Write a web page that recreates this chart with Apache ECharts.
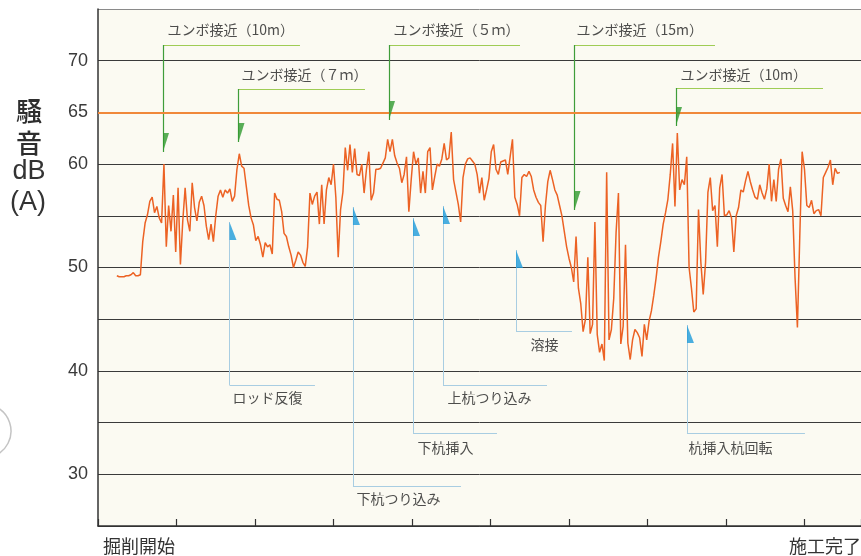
<!DOCTYPE html>
<html><head><meta charset="utf-8">
<script src="https://cdn.jsdelivr.net/npm/echarts@6/dist/echarts.min.js"></script>
<style>html,body{margin:0;padding:0;background:#fff}#c{width:861px;height:556px}</style>
</head><body><div id="c"></div>
<script>
// time axis: arbitrary units, one tick per 10 units
const T0 = 2.4, DT = 0.3;
const xMax = 97.2;
const noiseDb = [
49.2,49.1,49.1,49.1,49.2,49.2,49.3,49.5,49.2,49.2,49.3,
52.5,54.3,55.1,56.4,56.8,55.3,55.9,54.8,54.3,
60.0,52.0,56.0,53.5,57.0,51.5,57.7,50.3,54.5,57.7,
54.6,53.5,58.2,55.8,54.5,56.3,56.9,56.0,54.0,52.7,
54.2,52.5,55.0,56.9,57.5,56.8,57.5,57.2,57.6,56.4,
56.9,59.5,61.0,59.8,59.6,57.8,56.0,54.8,54.1,52.6,
53.0,52.2,51.0,52.4,52.0,52.2,51.3,57.2,56.6,56.5,
55.4,53.3,53.0,52.0,51.2,50.0,50.7,51.5,51.2,50.5,
50.1,52.0,57.2,56.1,56.9,57.3,54.2,58.0,54.2,57.5,
58.7,58.0,60.0,56.8,51.0,55.6,57.3,61.6,59.4,61.9,
59.2,61.5,59.0,58.9,60.0,57.2,59.5,61.2,56.5,57.2,
59.5,59.5,59.6,60.1,60.6,62.4,61.2,62.4,60.8,60.1,
59.6,58.2,59.0,60.7,55.4,58.5,61.2,60.0,60.6,57.2,
59.3,57.2,61.2,61.6,57.5,58.8,60.0,59.8,60.5,62.0,
60.4,60.6,63.1,58.5,57.3,56.1,54.4,58.7,60.0,60.5,
60.6,60.3,60.0,59.0,57.2,58.7,56.5,57.5,58.6,61.2,
61.9,59.5,59.0,60.2,60.3,60.4,59.0,60.7,62.4,56.8,
56.1,55.0,58.7,59.0,58.8,59.3,58.8,57.5,56.8,56.3,
56.0,52.5,56.0,58.3,59.4,58.5,57.5,57.0,56.0,55.0,
53.5,52.0,50.9,50.0,48.6,53.0,48.0,46.5,43.8,45.0,
51.0,43.6,44.5,54.4,43.5,41.8,42.6,41.0,59.2,43.0,
44.0,47.0,53.4,57.2,42.6,44.3,52.2,42.7,41.1,43.0,
44.0,43.7,43.2,41.4,44.5,43.0,44.8,45.8,47.3,49.0,
51.0,52.5,54.2,55.3,56.6,59.0,62.0,55.9,63.0,57.5,
58.5,58.0,60.7,50.0,48.0,45.7,46.0,55.6,50.5,47.4,
50.5,57.3,58.7,55.5,56.0,52.0,57.7,59.0,55.0,55.1,
55.5,54.8,51.5,55.0,55.8,57.5,57.3,58.4,59.3,58.3,
57.5,56.8,56.6,58.0,57.2,56.6,57.6,60.0,56.4,58.5,
56.4,59.5,60.5,56.7,56.0,55.4,57.8,55.5,49.0,44.2,
53.0,61.2,59.5,56.0,55.8,56.5,55.2,55.5,55.6,55.0,
58.7,59.2,59.7,60.4,58.0,59.6,59.1,59.2
];
const yTickLabels = [30, 40, 50, 60, 65, 70];
const limitDb = 65;

// green annotations (excavator approach)
const greenNames = ['ユンボ接近（10m）','ユンボ接近（７ｍ）','ユンボ接近（５ｍ）','ユンボ接近（15m）','ユンボ接近（10m）'];
const greenX     = [8.28, 17.90, 37.07, 60.70, 73.63];
const greenTop   = [71.52, 67.26, 71.52, 71.52, 67.36];
const greenTip   = [61.17, 62.14, 64.27, 55.56, 63.68];
const greenEnd   = [25.73, 34.01, 53.76, 78.60, 92.36];
const greenLabX  = [8.79, 18.22, 37.58, 60.89, 74.14];
const greenLabY  = [72.97, 68.62, 72.97, 72.97, 68.62];

// blue annotations (work steps)
const blueNames  = ['ロッド反復','下杭つり込み','下杭挿入','上杭つり込み','溶接','杭挿入杭回転'];
const blueX      = [16.75, 32.48, 40.13, 43.95, 53.25, 75.03];
const blueTip    = [54.40, 55.85, 54.79, 55.95, 51.69, 44.44];
const blueBottom = [38.64, 28.87, 34.00, 38.64, 43.86, 34.00];
const blueEnd    = [27.64, 46.24, 50.83, 57.20, 60.38, 90.06];
const blueLabX   = [17.07, 32.87, 40.64, 44.46, 55.03, 75.16];
const blueLabY   = [37.38, 27.61, 32.54, 37.38, 42.50, 32.54];

const noiseData = noiseDb.map((v, i) => [+(T0 + i * DT).toFixed(2), v]);

const chart = echarts.init(document.getElementById('c'), null, {renderer: 'canvas'});
const jp = "'Noto Sans CJK JP', sans-serif";
const lineColorsSplit = ['#333','#3a3a3a','#3a3a3a','#3a3a3a','#3a3a3a','#3a3a3a','#3a3a3a','#3a3a3a','#3a3a3a','#3a3a3a','#8a8a8a'];

chart.setOption({
  animation: false,
  backgroundColor: '#ffffff',
  grid: {left: 98, right: 0, top: 9, bottom: 30, containLabel: false, outerBoundsMode: 'none',
         show: true, backgroundColor: '#fbfaf2', borderWidth: 0},
  xAxis: {
    type: 'value', min: 0, max: xMax, interval: 10,
    axisLine: {show: true, lineStyle: {color: '#333', width: 1.5}},
    axisTick: {show: true, inside: true, length: 7, lineStyle: {color: '#333', width: 1.2}},
    axisLabel: {show: false}, splitLine: {show: false}
  },
  yAxis: {
    type: 'value', min: 25, max: 75, interval: 5,
    axisLine: {show: true, lineStyle: {color: '#333', width: 1.5}},
    axisTick: {show: false},
    axisLabel: {
      margin: 10, fontSize: 18, color: '#3a3a3a', fontFamily: "'Liberation Sans', Arial, sans-serif",
      formatter: v => yTickLabels.includes(v) ? String(v) : ''
    },
    splitLine: {show: true, lineStyle: {color: lineColorsSplit, width: 1}}
  },
  graphic: [
    {type: 'text', x: 29, y: 111, style: {text: '騒', font: "500 26px 'Noto Sans CJK JP'", fill: '#2e2e2e', align: 'center', verticalAlign: 'middle'}},
    {type: 'text', x: 29, y: 143, style: {text: '音', font: "500 26px 'Noto Sans CJK JP'", fill: '#2e2e2e', align: 'center', verticalAlign: 'middle'}},
    {type: 'text', x: 29, y: 172, style: {text: 'dB', font: "27px 'Liberation Sans', Arial", fill: '#333', align: 'center', verticalAlign: 'middle'}},
    {type: 'text', x: 28, y: 203, style: {text: '(A)', font: "27px 'Liberation Sans', Arial", fill: '#333', align: 'center', verticalAlign: 'middle'}},
    {type: 'text', x: 103, y: 546, style: {text: '掘削開始', font: "18px 'Noto Sans CJK JP'", fill: '#333', align: 'left', verticalAlign: 'middle'}},
    {type: 'text', x: 861, y: 546, style: {text: '施工完了', font: "18px 'Noto Sans CJK JP'", fill: '#333', align: 'right', verticalAlign: 'middle'}},
    {type: 'arc', shape: {cx: -16, cy: 431, r: 27, startAngle: -1.1, endAngle: 1.1}, style: {stroke: '#c4c4c4', lineWidth: 1.5, fill: null}}
  ],
  series: [
    {
      type: 'line', data: noiseData, showSymbol: false, symbol: 'none', z: 5,
      lineStyle: {color: '#ec6224', width: 1.5},
      markLine: {
        silent: true, symbol: ['none','none'], label: {show: false},
        lineStyle: {color: '#f0883a', width: 1.8, type: 'solid'},
        data: [{yAxis: limitDb}]
      }
    },
    {
      type: 'lines', coordinateSystem: 'cartesian2d', z: 4,
      lineStyle: {color: '#9fcc55', width: 1, opacity: 1},
      data: greenX.map((x, i) => ({coords: [[x, greenTop[i]], [greenEnd[i], greenTop[i]]]}))
    },
    {
      type: 'lines', coordinateSystem: 'cartesian2d', z: 4,
      lineStyle: {color: '#3f9d3a', width: 1.2, opacity: 1},
      data: greenX.map((x, i) => ({coords: [[x, greenTop[i]], [x, greenTip[i]]]}))
    },
    {
      type: 'lines', coordinateSystem: 'cartesian2d', z: 4,
      lineStyle: {color: '#a8cde2', width: 1, opacity: 1},
      data: blueX.map((x, i) => ({coords: [[x, blueBottom[i]], [blueEnd[i], blueBottom[i]]]}))
    },
    {
      type: 'lines', coordinateSystem: 'cartesian2d', z: 4,
      lineStyle: {color: '#a8cde2', width: 1, opacity: 1},
      data: blueX.map((x, i) => ({coords: [[x, blueBottom[i]], [x, blueTip[i]]]}))
    },
    {
      type: 'scatter', z: 6, silent: true,
      symbol: 'path://M0,0 L6,0 L0,19 Z', symbolSize: [6, 19], symbolOffset: [3, -9.5],
      itemStyle: {color: '#2f9a2e'},
      data: greenX.map((x, i) => [x, greenTip[i]])
    },
    {
      type: 'scatter', z: 6, silent: true,
      symbol: 'path://M0,0 L7,18 L0,18 Z', symbolSize: [7, 18], symbolOffset: [3.5, 9],
      itemStyle: {color: '#1e9bd9'},
      data: blueX.map((x, i) => [x, blueTip[i]])
    },
    {
      type: 'scatter', z: 7, silent: true, symbol: 'circle', symbolSize: 1,
      itemStyle: {color: 'rgba(0,0,0,0)'},
      label: {show: true, position: 'right', distance: 0, formatter: p => p.name,
              fontFamily: jp, fontSize: 14, color: '#222', align: 'left', verticalAlign: 'middle'},
      data: greenNames.map((n, i) => ({name: n, value: [greenLabX[i], greenLabY[i]]}))
        .concat(blueNames.map((n, i) => ({name: n, value: [blueLabX[i], blueLabY[i]]})))
    }
  ]
});
</script>
</body></html>
